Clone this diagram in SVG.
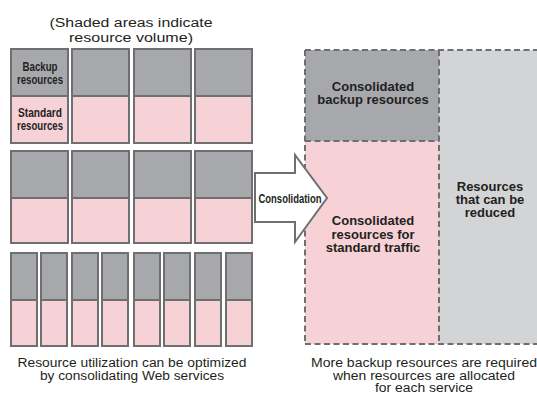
<svg xmlns="http://www.w3.org/2000/svg" width="537" height="394" viewBox="0 0 537 394">
  <style>
    .bk { fill: #a7a8ab; stroke: #6f6f71; stroke-width: 2; }
    .st { fill: #f6d1d6; stroke: #6f6f71; stroke-width: 2; }
    .dash { fill: none; stroke: #6f6f71; stroke-width: 2; stroke-dasharray: 6 3.5; }
    .cap { font-family: "Liberation Sans", Arial, sans-serif; font-size: 12.5px; fill: #231f20; text-anchor: middle; }
    .lbl { font-family: "Liberation Sans", Arial, sans-serif; font-size: 13px; font-weight: bold; fill: #231f20; text-anchor: middle; }
    .nar { font-family: "Liberation Sans", Arial, sans-serif; font-size: 12px; font-weight: bold; fill: #231f20; text-anchor: middle; }
  </style>

  <!-- caption above the server blocks -->
  <g id="caption-top">
    <text class="cap" x="131" y="27" font-size="14" textLength="163" lengthAdjust="spacingAndGlyphs">(Shaded areas indicate</text>
    <text class="cap" x="131" y="42" font-size="14" textLength="124" lengthAdjust="spacingAndGlyphs">resource volume)</text>
  </g>

  <!-- row 1: four services -->
  <g id="row1">
    <g id="svc1-1">
      <rect class="bk" x="11" y="49" width="57" height="47"/>
      <rect class="st" x="11" y="96" width="57" height="47"/>
      <text class="nar" x="40" y="71" textLength="35" lengthAdjust="spacingAndGlyphs">Backup</text>
      <text class="nar" x="40" y="84" textLength="46" lengthAdjust="spacingAndGlyphs">resources</text>
      <text class="nar" x="40" y="117" textLength="44" lengthAdjust="spacingAndGlyphs">Standard</text>
      <text class="nar" x="40" y="130" textLength="46" lengthAdjust="spacingAndGlyphs">resources</text>
    </g>
    <g id="svc1-2">
      <rect class="bk" x="72" y="49" width="57" height="47"/>
      <rect class="st" x="72" y="96" width="57" height="47"/>
    </g>
    <g id="svc1-3">
      <rect class="bk" x="134" y="49" width="57" height="47"/>
      <rect class="st" x="134" y="96" width="57" height="47"/>
    </g>
    <g id="svc1-4">
      <rect class="bk" x="195" y="49" width="57" height="47"/>
      <rect class="st" x="195" y="96" width="57" height="47"/>
    </g>
  </g>

  <!-- row 2: four services -->
  <g id="row2">
    <g id="svc2-1">
      <rect class="bk" x="11" y="151" width="57" height="47"/>
      <rect class="st" x="11" y="198" width="57" height="45"/>
    </g>
    <g id="svc2-2">
      <rect class="bk" x="72" y="151" width="57" height="47"/>
      <rect class="st" x="72" y="198" width="57" height="45"/>
    </g>
    <g id="svc2-3">
      <rect class="bk" x="134" y="151" width="57" height="47"/>
      <rect class="st" x="134" y="198" width="57" height="45"/>
    </g>
    <g id="svc2-4">
      <rect class="bk" x="195" y="151" width="57" height="47"/>
      <rect class="st" x="195" y="198" width="57" height="45"/>
    </g>
  </g>

  <!-- row 3: eight narrow services -->
  <g id="row3">
    <g id="svc3-1"><rect class="bk" x="11" y="253" width="26" height="47"/><rect class="st" x="11" y="300" width="26" height="46"/></g>
    <g id="svc3-2"><rect class="bk" x="41" y="253" width="26" height="47"/><rect class="st" x="41" y="300" width="26" height="46"/></g>
    <g id="svc3-3"><rect class="bk" x="72" y="253" width="26" height="47"/><rect class="st" x="72" y="300" width="26" height="46"/></g>
    <g id="svc3-4"><rect class="bk" x="102" y="253" width="26" height="47"/><rect class="st" x="102" y="300" width="26" height="46"/></g>
    <g id="svc3-5"><rect class="bk" x="134" y="253" width="26" height="47"/><rect class="st" x="134" y="300" width="26" height="46"/></g>
    <g id="svc3-6"><rect class="bk" x="164" y="253" width="26" height="47"/><rect class="st" x="164" y="300" width="26" height="46"/></g>
    <g id="svc3-7"><rect class="bk" x="195" y="253" width="26" height="47"/><rect class="st" x="195" y="300" width="26" height="46"/></g>
    <g id="svc3-8"><rect class="bk" x="226" y="253" width="26" height="47"/><rect class="st" x="226" y="300" width="26" height="46"/></g>
  </g>

  <g id="caption-left">
    <text class="cap" x="132" y="367" textLength="229" lengthAdjust="spacingAndGlyphs">Resource utilization can be optimized</text>
    <text class="cap" x="132" y="379.5" textLength="184" lengthAdjust="spacingAndGlyphs">by consolidating Web services</text>
  </g>

  <!-- consolidated pool -->
  <g id="pool">
    <rect x="439" y="50" width="110" height="294" fill="#d3d4d6"/>
    <rect x="305" y="50" width="134" height="91" fill="#a7a8ab"/>
    <rect x="305" y="141" width="134" height="203" fill="#f6d1d6"/>
    <path class="dash" d="M305 50 H545 M305 344 H545 M305 50 V344 M439 50 V344 M305 141 H439"/>
  </g>
  <g id="consolidated-backup">
    <text class="lbl" x="373" y="91">Consolidated</text>
    <text class="lbl" x="373" y="104">backup resources</text>
  </g>
  <g id="consolidated-standard">
    <text class="lbl" x="373" y="225">Consolidated</text>
    <text class="lbl" x="373" y="238.5">resources for</text>
    <text class="lbl" x="373" y="252">standard traffic</text>
  </g>
  <g id="reducible">
    <text class="lbl" x="490" y="191">Resources</text>
    <text class="lbl" x="490" y="204">that can be</text>
    <text class="lbl" x="490" y="217">reduced</text>
  </g>

  <g id="caption-right">
    <text class="cap" x="424" y="367" textLength="226" lengthAdjust="spacingAndGlyphs">More backup resources are required</text>
    <text class="cap" x="424" y="379.5" textLength="182" lengthAdjust="spacingAndGlyphs">when resources are allocated</text>
    <text class="cap" x="424" y="391.5" textLength="98" lengthAdjust="spacingAndGlyphs">for each service</text>
  </g>

  <!-- block arrow: services to pool -->
  <g id="connectors">
    <g id="consolidation-arrow">
      <polygon points="255,173 295,173 295,155 327,198 295,242 295,222 255,222" fill="#ffffff" stroke="#6f6f71" stroke-width="2" stroke-linejoin="miter"/>
      <text class="nar" x="290" y="202.5" font-size="13" textLength="63" lengthAdjust="spacingAndGlyphs">Consolidation</text>
    </g>
  </g>
</svg>
